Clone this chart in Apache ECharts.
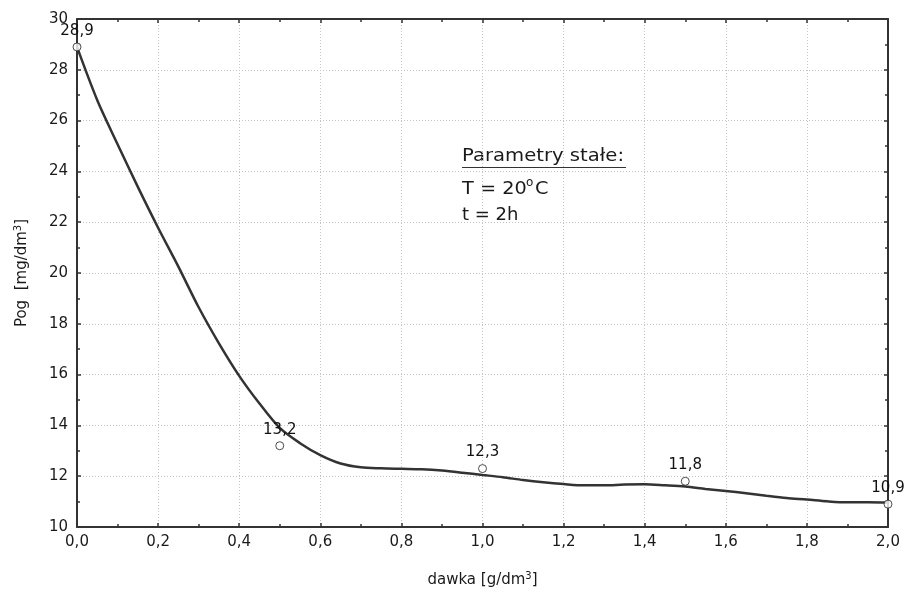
<!DOCTYPE html>
<html>
<head>
<meta charset="utf-8">
<script src="https://cdn.jsdelivr.net/npm/echarts@6/dist/echarts.min.js"></script>
<style>
html,body{margin:0;padding:0;background:#fff;}
#chart{width:907px;height:595px;}
</style>
</head>
<body>
<div id="chart"></div>
<script>
// Measured points (dose g/dm3 -> Pog mg/dm3)
const doseValues = [0.0, 0.5, 1.0, 1.5, 2.0];
const pogValues = [28.9, 13.2, 12.3, 11.8, 10.9];
const pointLabels = ['28,9', '13,2', '12,3', '11,8', '10,9'];

// Fitted curve
const curveX = [0.00, 0.05, 0.10, 0.15, 0.20, 0.25, 0.30, 0.35, 0.40, 0.45,
                0.50, 0.55, 0.60, 0.65, 0.70, 0.75, 0.80, 0.85, 0.90, 0.95,
                1.00, 1.05, 1.10, 1.15, 1.20, 1.25, 1.30, 1.35, 1.40, 1.45,
                1.50, 1.55, 1.60, 1.65, 1.70, 1.75, 1.80, 1.85, 1.90, 1.95, 2.00];
const curveY = [28.9, 26.8, 25.07, 23.39, 21.78, 20.25, 18.65, 17.23, 15.95, 14.86,
                13.9, 13.3, 12.83, 12.5, 12.35, 12.31, 12.29, 12.27, 12.22, 12.14,
                12.05, 11.96, 11.85, 11.76, 11.69, 11.64, 11.64, 11.67, 11.68, 11.64,
                11.59, 11.50, 11.42, 11.33, 11.23, 11.14, 11.08, 11.01, 10.97, 10.97, 10.96];

// Axis ranges / ticks
const xMin = 0, xMax = 2, xStep = 0.2;
const yMin = 10, yMax = 30, yStep = 2;

const xAxisTitle = 'dawka [g/dm';
const yAxisTitle = 'Pog  [mg/dm';
const noteTitle = 'Parametry stałe:';
const noteT = ['T = 20', 'o', 'C'];
const noteTime = 't = 2h';

const FONT = '"DejaVu Sans", sans-serif';
const TXT = '#1a1a1a';
const AX = '#333';

const chart = echarts.init(document.getElementById('chart'), null, {renderer: 'canvas'});

const scatterData = doseValues.map((d, i) => [d, pogValues[i]]);
const curveData = curveX.map((d, i) => [d, curveY[i]]);

const baseX = {
  type: 'value', min: xMin, max: xMax, interval: xStep,
  axisLine: {show: true, onZero: false, lineStyle: {color: AX, width: 2}},
  axisTick: {show: true, inside: true, length: 4, lineStyle: {color: AX, width: 1.5}},
  minorTick: {show: true, splitNumber: 2, length: 3, lineStyle: {color: AX, width: 1.5}},
};
const baseY = {
  type: 'value', min: yMin, max: yMax, interval: yStep,
  axisLine: {show: true, onZero: false, lineStyle: {color: AX, width: 2}},
  axisTick: {show: true, inside: true, length: 4, lineStyle: {color: AX, width: 1.5}},
  minorTick: {show: true, splitNumber: 2, length: 3, lineStyle: {color: AX, width: 1.5}},
};

const option = {
  backgroundColor: '#ffffff',
  animation: false,
  grid: {left: 77, right: 19, top: 19, bottom: 68, containLabel: false},
  xAxis: [
    Object.assign({}, baseX, {
      position: 'bottom',
      axisLabel: {
        color: TXT, fontFamily: FONT, fontSize: 15, margin: 8,
        formatter: v => v.toFixed(1).replace('.', ',')
      },
      splitLine: {show: true, lineStyle: {color: '#c4c4c4', width: 1, type: [1, 2]}},
      name: '{a|' + xAxisTitle + '}{s|3}{a|]}',
      nameLocation: 'middle', nameGap: 44,
      nameTextStyle: {
        rich: {
          a: {fontFamily: FONT, fontSize: 15, color: TXT},
          s: {fontFamily: FONT, fontSize: 10, color: TXT, padding: [0, 0, 8, 0]}
        }
      }
    }),
    Object.assign({}, baseX, {
      position: 'top',
      axisLabel: {show: false},
      splitLine: {show: false}
    })
  ],
  yAxis: [
    Object.assign({}, baseY, {
      position: 'left',
      axisLabel: {color: TXT, fontFamily: FONT, fontSize: 15, margin: 9},
      splitLine: {show: true, lineStyle: {color: '#c4c4c4', width: 1, type: [1, 2]}},
      name: '{a|' + yAxisTitle + '}{s|3}{a|]}',
      nameLocation: 'middle', nameGap: 46, nameRotate: 90,
      nameTextStyle: {
        rich: {
          a: {fontFamily: FONT, fontSize: 15, color: TXT},
          s: {fontFamily: FONT, fontSize: 10, color: TXT, padding: [0, 0, 8, 0]}
        }
      }
    }),
    Object.assign({}, baseY, {
      position: 'right',
      axisLabel: {show: false},
      splitLine: {show: false}
    })
  ],
  series: [
    {
      type: 'line',
      xAxisIndex: 0, yAxisIndex: 0,
      data: curveData,
      smooth: 0.3,
      showSymbol: false,
      lineStyle: {color: '#333', width: 2.5},
      z: 3
    },
    {
      type: 'scatter',
      xAxisIndex: 0, yAxisIndex: 0,
      data: scatterData,
      symbol: 'circle',
      symbolSize: 8,
      itemStyle: {color: '#fff', borderColor: '#222', borderWidth: 1},
      label: {
        show: true, position: 'top', distance: 4,
        fontFamily: FONT, fontSize: 15, color: '#111', opacity: 1,
        textBorderWidth: 0,
        formatter: p => pointLabels[p.dataIndex]
      },
      z: 4
    }
  ],
  graphic: [
    {
      type: 'text', left: 462, top: 147, scaleX: 1.09,
      style: {text: noteTitle, font: '18px ' + FONT, fill: TXT}
    },
    {
      type: 'rect', shape: {x: 462, y: 167, width: 164, height: 1},
      style: {fill: '#333'}
    },
    {
      type: 'text', left: 462, top: 180, scaleX: 1.07,
      style: {text: noteT[0], font: '18px ' + FONT, fill: TXT}
    },
    {
      type: 'text', left: 526, top: 177,
      style: {text: noteT[1], font: '12px ' + FONT, fill: TXT}
    },
    {
      type: 'text', left: 535, top: 180, scaleX: 1.07,
      style: {text: noteT[2], font: '18px ' + FONT, fill: TXT}
    },
    {
      type: 'text', left: 462, top: 206,
      style: {text: noteTime, font: '18px ' + FONT, fill: TXT}
    }
  ]
};

chart.setOption(option);
</script>
</body>
</html>
